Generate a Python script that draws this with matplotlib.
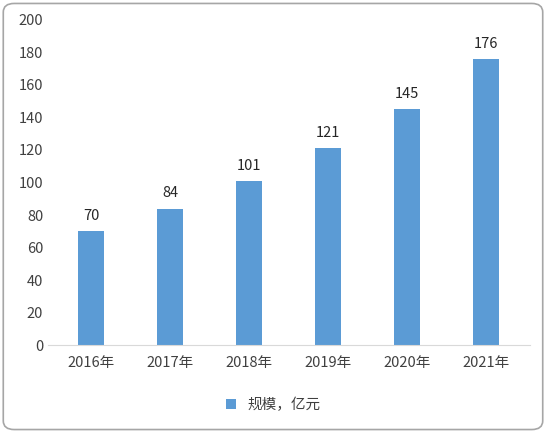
import matplotlib.pyplot as plt
from matplotlib.patches import FancyBboxPatch

plt.rcParams['font.family'] = ['Noto Sans CJK SC', 'DejaVu Sans']

years = ['2016年', '2017年', '2018年', '2019年', '2020年', '2021年']
values = [70, 84, 101, 121, 145, 176]

fig = plt.figure(figsize=(5.46, 4.33), dpi=100)
ax = fig.add_axes([0.088, 0.203, 0.882, 0.751])
bars = ax.bar(years, values, width=0.33, color='#5B9BD5', label='规模，亿元')
for b, v in zip(bars, values):
    ax.text(b.get_x() + b.get_width() / 2, v + 5, str(v), ha='center', va='bottom',
            fontsize=10.5, color='#262626')

ax.set_ylim(0, 200)
ax.set_yticks(range(0, 201, 20))
ax.set_xlim(-0.55, 5.55)
for s in ['top', 'right', 'left']:
    ax.spines[s].set_visible(False)
ax.spines['bottom'].set_color('#D9D9D9')
ax.tick_params(axis='both', length=0, labelsize=10.5, labelcolor='#404040')
ax.tick_params(axis='x', pad=8)

fig.legend(loc='center', bbox_to_anchor=(0.5, 0.065), frameon=False, fontsize=10.5,
           handlelength=0.7, handleheight=0.7, labelcolor='#404040')

fig.patches.append(FancyBboxPatch((0.006, 0.008), 0.988, 0.984, boxstyle='round,pad=0,rounding_size=0.02',
                                  transform=fig.transFigure, fill=False, edgecolor='#A6A6A6', linewidth=1.2))

fig.savefig('out.png', dpi=100)
